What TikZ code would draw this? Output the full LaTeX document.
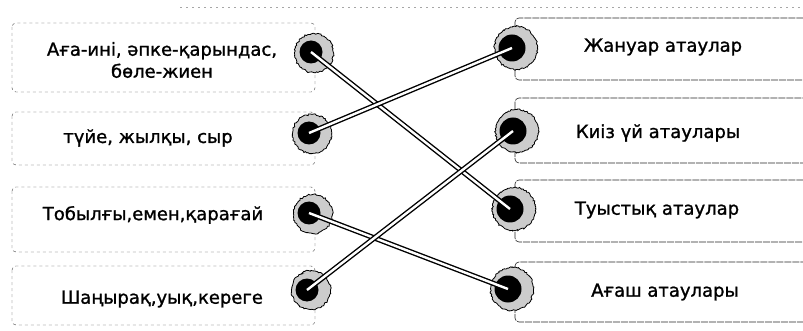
\documentclass[tikz,border=0pt]{standalone}
\usepackage{fontspec}
\setmainfont{DejaVu Sans}[AutoFakeBold=1.2]
\usetikzlibrary{decorations.pathmorphing}

\begin{document}
\begin{tikzpicture}[x=1pt,y=-1pt,
  leftbox/.style={draw=black!75,dashed,thin,rounded corners=4pt},
  rightbox/.style={draw=black!85,dash pattern=on 7pt off 1pt,semithick,rounded corners=4pt},
  ring/.style={circle,draw=black,line width=0.8pt,fill=gray!40,inner sep=0pt,
    decorate,decoration={random steps,segment length=1.5pt,amplitude=0.8pt}},
  hole/.style={circle,fill=black,inner sep=0pt},
  link/.style={draw=black,line width=1.4pt,double=white,double distance=2.4pt},
  txt/.style={font=\fontsize{18}{22}\bfseries,align=center}]
\clip (0,0) rectangle (803,331);
\fill[white] (0,0) rectangle (803,331);
\draw[gray!70,dash pattern=on 2pt off 4pt] (180,7)--(803,7);

% left column
\draw[leftbox] (12,23) rectangle (315,92);
\draw[leftbox] (12,112) rectangle (315,165);
\draw[leftbox] (12,187) rectangle (315,252);
\draw[leftbox] (12,266) rectangle (315,325);
\node[txt] (t1) at (162,60) {Аға-ині, әпке-қарындас,\\бөле-жиен};
\node[txt] (t2) at (148,138) {түйе, жылқы, сыр};
\node[txt] (t3) at (153,215) {Тобылғы,емен,қарағай};
\node[txt] (t4) at (162,299) {Шаңырақ,уық,кереге};

% right column
\draw[rightbox] (515,18) rectangle (830,80);
\draw[rightbox] (515,98) rectangle (830,163);
\draw[rightbox] (515,180) rectangle (830,242);
\draw[rightbox] (515,262) rectangle (830,322);
\node[txt] (u1) at (663,47) {Жануар атаулар};
\node[txt] (u2) at (658,133) {Киіз үй атаулары};
\node[txt] (u3) at (657,210) {Туыстық атаулар};
\node[txt] (u4) at (665,292) {Ағаш атаулары};

% rings
\node[ring,minimum size=39pt] at (314,53) {};
\node[ring,minimum size=39pt] at (312,134) {};
\node[ring,minimum size=39pt] at (313,214) {};
\node[ring,minimum size=39pt] at (311,290) {};
\node[ring,minimum size=43pt] at (516,48) {};
\node[ring,minimum size=43pt] at (517,131) {};
\node[ring,minimum size=43pt] at (514,209) {};
\node[ring,minimum size=43pt] at (512,289) {};

\node[hole,minimum size=23pt] (l1) at (311,52) {};
\node[hole,minimum size=23pt] (l2) at (309,133) {};
\node[hole,minimum size=23pt] (l3) at (309,213) {};
\node[hole,minimum size=23pt] (l4) at (307,290) {};
\node[hole,minimum size=27pt] (r1) at (512,48) {};
\node[hole,minimum size=27pt] (r2) at (513,131) {};
\node[hole,minimum size=27pt] (r3) at (510,209) {};
\node[hole,minimum size=27pt] (r4) at (508,289) {};

% connections
\draw[link] (l1.center)--(r3.center);
\draw[link] (l2.center)--(r1.center);
\draw[link] (l3.center)--(r4.center);
\draw[link] (l4.center)--(r2.center);

\end{tikzpicture}
\end{document}
